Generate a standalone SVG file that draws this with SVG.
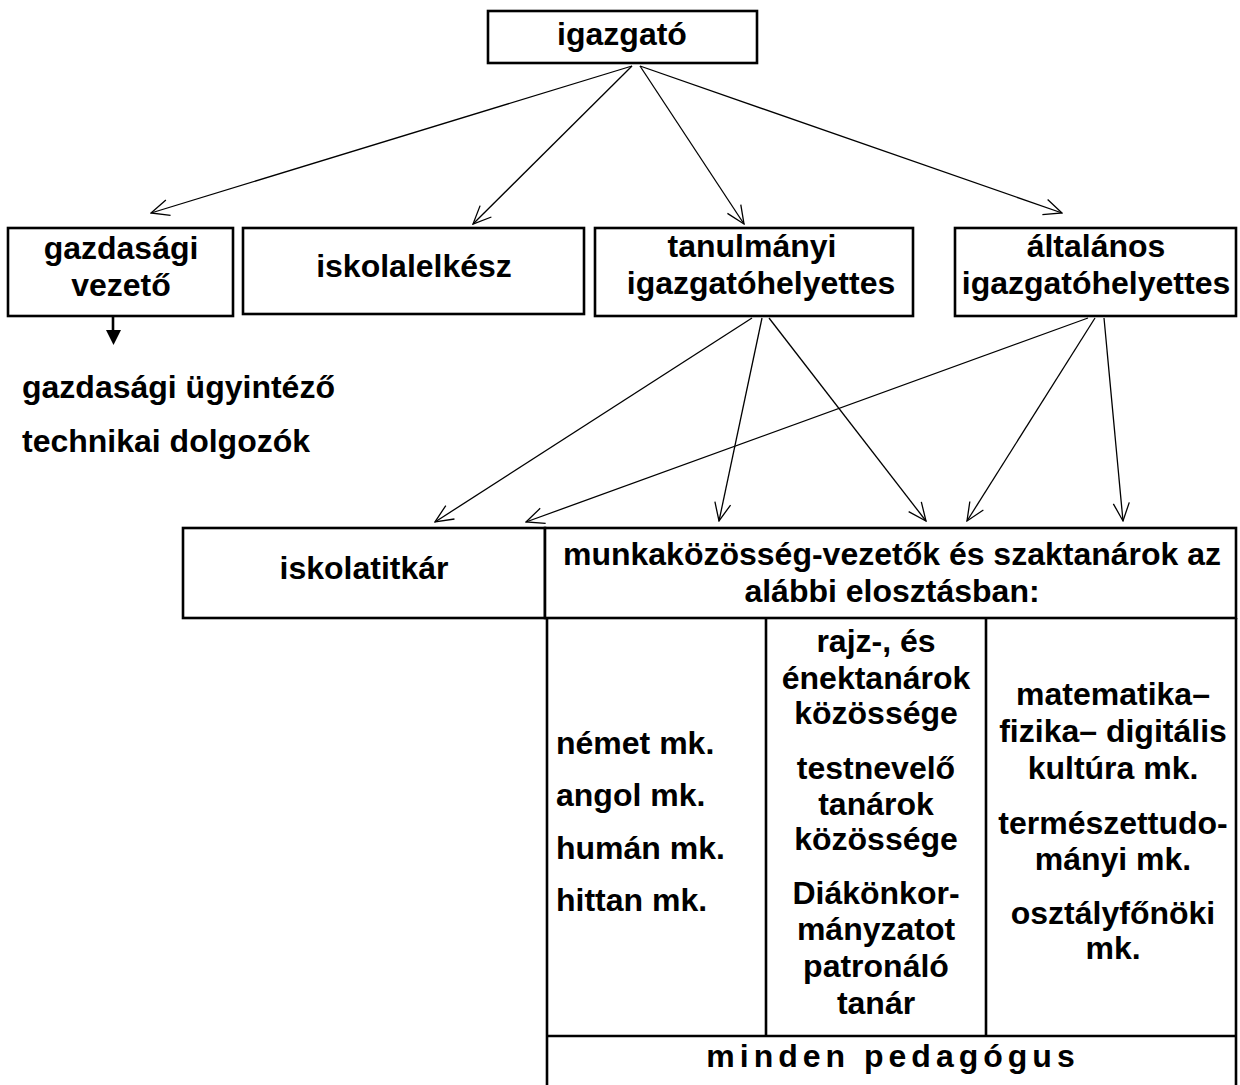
<svg xmlns="http://www.w3.org/2000/svg" width="1240" height="1085" viewBox="0 0 1240 1085">
<style>
  .box { fill: #fff; stroke: #000; stroke-width: 2.6; }
  .ln { stroke: #000; stroke-width: 2.6; fill: none; }
  .arr { stroke: #000; stroke-width: 1.3; fill: none; marker-end: url(#open); }
  text { font-family: "Liberation Sans", Arial, sans-serif; font-weight: bold; font-size: 32px; fill: #000; }
  .c { text-anchor: middle; }
</style>
<defs>
  <marker id="open" viewBox="0 0 20 20" refX="19" refY="10" markerWidth="20" markerHeight="20" markerUnits="userSpaceOnUse" orient="auto">
    <path d="M1,2 L19,10 L1,18" stroke="#000" stroke-width="1.3" fill="none"/>
  </marker>
</defs>
<rect width="1240" height="1085" fill="#fff"/>

<g id="connectors">
  <line class="arr" x1="632" y1="66" x2="151" y2="213"/>
  <line class="arr" x1="632" y1="66" x2="473" y2="224"/>
  <line class="arr" x1="640" y1="66" x2="744" y2="224"/>
  <line class="arr" x1="640" y1="66" x2="1062" y2="213"/>
  <line class="arr" x1="752" y1="318" x2="435" y2="522"/>
  <line class="arr" x1="762" y1="318" x2="719" y2="521"/>
  <line class="arr" x1="769" y1="318" x2="926" y2="521"/>
  <line class="arr" x1="1088" y1="318" x2="526" y2="522"/>
  <line class="arr" x1="1095" y1="318" x2="967" y2="521"/>
  <line class="arr" x1="1104" y1="318" x2="1123" y2="521"/>
  <line class="ln" x1="113" y1="316" x2="113" y2="332" stroke-width="2"/>
  <polygon points="106,330 121,330 113.5,345" fill="#000"/>
</g>

<g id="igazgato">
  <rect class="box" x="488" y="11" width="269" height="52"/>
  <text class="c" x="622" y="45">igazgató</text>
</g>
<g id="gazdasagi-vezeto">
  <rect class="box" x="8" y="228" width="225" height="88"/>
  <text class="c" x="121" y="259">gazdasági</text>
  <text class="c" x="121" y="296">vezető</text>
</g>
<g id="iskolalelkesz">
  <rect class="box" x="243" y="228" width="341" height="86"/>
  <text class="c" x="414" y="277">iskolalelkész</text>
</g>
<g id="tanulmanyi">
  <rect class="box" x="595" y="228" width="318" height="88"/>
  <text class="c" x="752" y="257">tanulmányi</text>
  <text class="c" x="761" y="294">igazgatóhelyettes</text>
</g>
<g id="altalanos">
  <rect class="box" x="955" y="228" width="281" height="88"/>
  <text class="c" x="1096" y="257">általános</text>
  <text class="c" x="1096" y="294">igazgatóhelyettes</text>
</g>
<g id="gazdasagi-beosztottak">
  <text x="22" y="398">gazdasági ügyintéző</text>
  <text x="22" y="452">technikai dolgozók</text>
</g>
<g id="iskolatitkar">
  <rect class="box" x="183" y="528" width="362" height="90"/>
  <text class="c" x="364" y="579">iskolatitkár</text>
</g>
<g id="munkakozosseg">
  <rect class="box" x="545" y="528" width="691" height="90"/>
  <text class="c" x="892" y="565">munkaközösség-vezetők és szaktanárok az</text>
  <text class="c" x="892" y="602">alábbi elosztásban:</text>
</g>
<g id="elosztas">
  <line class="ln" x1="547" y1="618" x2="547" y2="1085"/>
  <line class="ln" x1="766" y1="618" x2="766" y2="1036"/>
  <line class="ln" x1="986" y1="618" x2="986" y2="1036"/>
  <line class="ln" x1="1236" y1="618" x2="1236" y2="1085"/>
  <line class="ln" x1="547" y1="1036" x2="1236" y2="1036"/>
  <text x="556" y="754">német mk.</text>
  <text x="556" y="806">angol mk.</text>
  <text x="556" y="859">humán mk.</text>
  <text x="556" y="911">hittan mk.</text>
  <text class="c" x="876" y="652">rajz-, és</text>
  <text class="c" x="876" y="689">énektanárok</text>
  <text class="c" x="876" y="724">közössége</text>
  <text class="c" x="876" y="779">testnevelő</text>
  <text class="c" x="876" y="815">tanárok</text>
  <text class="c" x="876" y="850">közössége</text>
  <text class="c" x="876" y="904">Diákönkor-</text>
  <text class="c" x="876" y="940">mányzatot</text>
  <text class="c" x="876" y="977">patronáló</text>
  <text class="c" x="876" y="1014">tanár</text>
  <text class="c" x="1113" y="705">matematika–</text>
  <text class="c" x="1113" y="742">fizika– digitális</text>
  <text class="c" x="1113" y="779">kultúra mk.</text>
  <text class="c" x="1113" y="834">természettudo-</text>
  <text class="c" x="1113" y="870">mányi mk.</text>
  <text class="c" x="1113" y="924">osztályfőnöki</text>
  <text class="c" x="1113" y="959">mk.</text>
  <text class="c" x="893" y="1067" style="letter-spacing:5px">minden pedagógus</text>
</g>
</svg>
